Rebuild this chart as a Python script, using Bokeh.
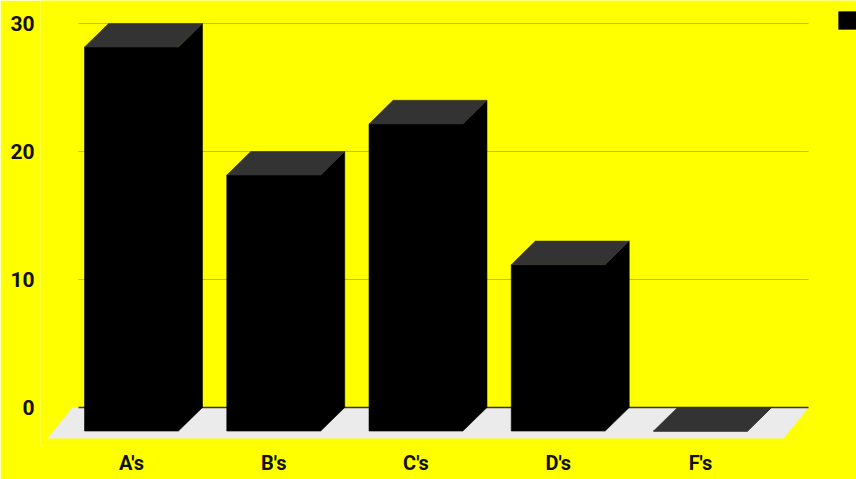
from bokeh.plotting import figure
from bokeh.models import FixedTicker, Legend, LegendItem, Range1d
from bokeh.embed import file_html
from bokeh.resources import INLINE

categories = ["A's", "B's", "C's", "D's", "F's"]
values = [30, 20, 24, 13, 0]
y_ticks = [0, 10, 20, 30]
series_name = " "

# 3D geometry (in data units)
HW = 0.33      # half width of front face
DX = 0.169     # depth offset in x
DY = 1.84      # depth offset in y
FLOOR_L, FLOOR_R = -0.415, 4.76
FLOOR_DX, FLOOR_DY = 0.176, 2.42
GRID_L, GRID_R = -0.373, 4.76

p = figure(width=856, height=479, output_backend="svg", toolbar_location=None,
           x_range=Range1d(-0.6397, 5.097), y_range=Range1d(-2.97, 31.8),
           min_border_left=40, min_border_right=0, min_border_top=0, min_border_bottom=34)
p.background_fill_color = "#ffff00"
p.border_fill_color = "#ffff00"
p.outline_line_color = None
p.xgrid.visible = False
p.ygrid.visible = False

# gridlines on the back plane
p.segment(x0=[GRID_L] * len(y_ticks[1:]), x1=[GRID_R] * len(y_ticks[1:]),
          y0=y_ticks[1:], y1=y_ticks[1:], line_color="#c4c400", line_width=1)

# floor
p.patch(x=[FLOOR_L, FLOOR_R, FLOOR_R - FLOOR_DX, FLOOR_L - FLOOR_DX],
        y=[0, 0, -FLOOR_DY, -FLOOR_DY], fill_color="#ebebeb", line_color=None)
# baseline
p.segment(x0=[GRID_L], x1=[GRID_R], y0=[0], y1=[0], line_color="#333333", line_width=1.5)

body_xs, body_ys, top_xs, top_ys = [], [], [], []
for i, v in enumerate(values):
    body_xs.append([i - HW, i + HW, i + HW + DX, i + HW + DX, i + HW, i - HW])
    body_ys.append([-DY, -DY, 0, v, v - DY, v - DY])
    top_xs.append([i - HW, i + HW, i + HW + DX, i - HW + DX])
    top_ys.append([v - DY, v - DY, v, v])

body = p.patches(xs=body_xs, ys=body_ys, fill_color="#000000", line_color="#000000", line_width=0.6)
p.patches(xs=top_xs, ys=top_ys, fill_color="#333333", line_color="#333333", line_width=0.6)

# axes
p.yaxis.ticker = FixedTicker(ticks=y_ticks)
p.yaxis.axis_line_color = None
p.yaxis.major_tick_line_color = None
p.yaxis.minor_tick_line_color = None
p.yaxis.major_tick_out = 0
p.yaxis.major_tick_in = 0
p.yaxis.minor_tick_out = 0
p.yaxis.major_label_standoff = 6
p.yaxis.major_label_text_font = "Roboto"
p.yaxis.major_label_text_font_style = "bold"
p.yaxis.major_label_text_font_size = "21px"
p.yaxis.major_label_text_color = "#111111"

p.xaxis.ticker = FixedTicker(ticks=list(range(len(categories))))
p.xaxis.major_label_overrides = {i: c for i, c in enumerate(categories)}
p.xaxis.axis_line_color = None
p.xaxis.major_tick_line_color = None
p.xaxis.minor_tick_line_color = None
p.xaxis.major_tick_out = 0
p.xaxis.major_tick_in = 0
p.xaxis.minor_tick_out = 0
p.xaxis.major_label_standoff = 5
p.xaxis.major_label_text_font = "Roboto"
p.xaxis.major_label_text_font_style = "bold"
p.xaxis.major_label_text_font_size = "20px"
p.xaxis.major_label_text_color = "#111111"

legend = Legend(items=[LegendItem(label=series_name, renderers=[body])],
                location=(796, 414), padding=0, margin=0, spacing=0,
                glyph_width=22, glyph_height=22, label_height=22,
                border_line_color=None, background_fill_alpha=0,
                label_text_font_size="14px")
p.add_layout(legend, "center")

open("out.html", "w").write(file_html(p, INLINE))
